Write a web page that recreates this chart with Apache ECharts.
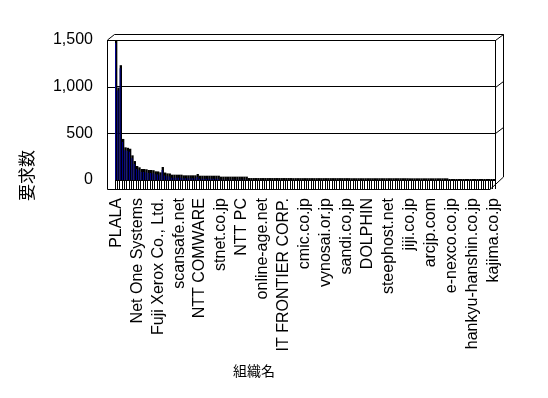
<!DOCTYPE html>
<html>
<head>
<meta charset="utf-8">
<script src="https://cdn.jsdelivr.net/npm/echarts@6/dist/echarts.min.js"></script>
<style>
  html, body { margin: 0; background: #fff; }
  #main { width: 548px; height: 398px; }
</style>
</head>
<body>
<div id="main"></div>
<script>
// labelled organisations (every 9th category)
const labels = ['PLALA', 'Net One Systems', 'Fuji Xerox Co., Ltd.', 'scansafe.net', 'NTT COMWARE',
  'stnet.co.jp', 'NTT PC', 'online-age.net', 'IT FRONTIER CORP.', 'cmic.co.jp', 'vynosai.or.jp',
  'sandi.co.jp', 'DOLPHIN', 'steephost.net', 'jiji.co.jp', 'arcjp.com', 'e-nexco.co.jp',
  'hankyu-hanshin.co.jp', 'kajima.co.jp'];
const labelStep = 9;

// request counts, 163 organisations
const values = [
  1500, 990, 1230, 440, 350, 345, 335, 264, 203, 150,
  136, 118, 118, 115, 107, 107, 105, 93, 92, 82,
  139, 80, 71, 70, 57, 57, 57, 57, 57, 50,
  50, 50, 50, 50, 50, 64, 46, 46, 46, 46,
  46, 46, 46, 46, 46, 36, 36, 36, 36, 36,
  36, 36, 36, 36, 36, 36, 36, 21, 21, 21,
  21, 21, 21, 21, 21, 21, 21, 21, 21, 21,
  21, 21, 21, 21, 21, 21, 20, 20, 20, 20,
  20, 20, 20, 20, 20, 20, 20, 20, 20, 20,
  20, 20, 20, 20, 20, 20, 20, 20, 20, 20,
  20, 19, 19, 19, 19, 19, 19, 19, 19, 19,
  19, 19, 19, 19, 19, 19, 19, 19, 19, 19,
  19, 19, 19, 19, 19, 19, 18, 18, 18, 18,
  18, 18, 18, 18, 18, 18, 18, 18, 18, 18,
  18, 18, 18, 11, 11, 11, 11, 11, 11, 11,
  11, 11, 11, 11, 11, 11, 11, 11, 11, 11,
  11, 11, 11
];
const yMin = 0, yMax = 1500, yStep = 500;

const categories = values.map((v, i) => i % labelStep === 0 ? labels[i / labelStep] : 'org' + i);

const chart = echarts.init(document.getElementById('main'));

const option = {
  backgroundColor: '#fff',
  animation: false,
  textStyle: { fontFamily: 'Liberation Sans', color: '#000' },
  grid: { left: 115, right: 53, top: 40, bottom: 218 },
  xAxis: {
    type: 'category',
    data: categories,
    axisLine: { show: false },
    axisTick: { show: true, interval: 0, length: 9, lineStyle: { color: '#000', width: 1 } },
    axisLabel: {
      interval: labelStep - 1,
      rotate: 90,
      margin: 18,
      fontSize: 16,
      color: '#000'
    }
  },
  yAxis: {
    type: 'value',
    min: yMin,
    max: yMax,
    interval: yStep,
    axisLine: { show: false },
    axisTick: { show: false },
    axisLabel: {
      margin: 22,
      fontSize: 16,
      color: '#000',
      formatter: v => v.toLocaleString('en-US')
    },
    splitLine: { show: true, lineStyle: { color: '#000', width: 1 } }
  },
  series: [{
    type: 'custom',
    data: values.map((v, i) => [i, v]),
    encode: { x: 0, y: 1 },
    renderItem: (params, api) => {
      const top = api.coord([api.value(0), api.value(1)]);
      const base = api.coord([api.value(0), 0]);
      const band = api.size([1, 0])[0];
      const x0 = top[0] - band / 2;
      const h = base[1] - top[1];
      return {
        type: 'group',
        children: [
          { type: 'rect', shape: { x: x0, y: top[1], width: band, height: h }, style: { fill: '#000' } },
          { type: 'rect', shape: { x: x0, y: top[1] + 3, width: band * 0.45, height: Math.max(0, h - 3) }, style: { fill: '#00008c' } }
        ]
      };
    }
  }]
};
chart.setOption(option);

// 3D box frame around the plot, Excel style
const line = (x1, y1, x2, y2) => ({
  type: 'line', silent: true,
  shape: { x1: x1, y1: y1, x2: x2, y2: y2 },
  style: { stroke: '#000', lineWidth: 1 }
});
const frame = [
  line(107.5, 40, 107.5, 189.5),
  line(107.5, 40, 114.5, 34.5),
  line(114.5, 34.5, 503.5, 34.5),
  line(495.5, 40, 495.5, 183),
  line(503.5, 34.5, 503.5, 177),
  line(107.5, 189.5, 490, 189.5),
  line(490, 189.5, 503.5, 177)
];
[yMin + yStep, yMin + 2 * yStep, yMax].forEach(v => {
  const y = Math.round(chart.convertToPixel({ yAxisIndex: 0 }, v)) + 0.5;
  frame.push(line(107.5, y, 115, y));
  frame.push(line(495.5, y, 503.5, y - 6));
});
chart.setOption({
  graphic: frame.concat([
    {
      type: 'text', left: 18, top: 150, rotation: Math.PI / 2,
      style: { text: '要求数', font: '17px "Noto Sans CJK JP"', fill: '#000' }
    },
    {
      type: 'text', left: 233, top: 364,
      style: { text: '組織名', font: '14px "Noto Sans CJK JP"', fill: '#000' }
    }
  ])
});
</script>
</body>
</html>
